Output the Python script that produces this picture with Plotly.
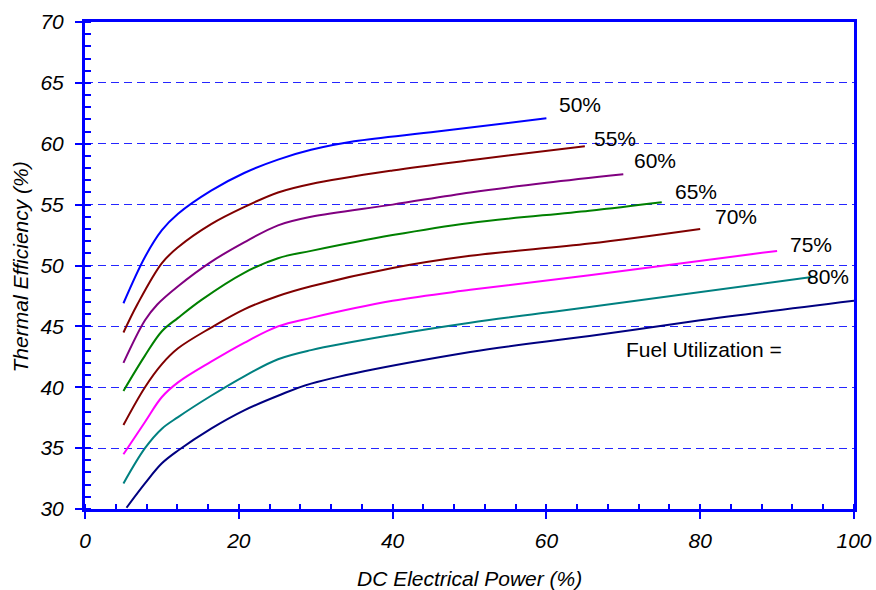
import plotly.graph_objects as go

# Fuel utilization curves: DC electrical power (%) vs thermal efficiency (%)
fu_labels = ["50%", "55%", "60%", "65%", "70%", "75%", "80%", "85%"]

x_50 = [5, 7.8, 10, 12.1, 16.4, 20.7, 25.1, 29.4, 35, 45.8, 60]
y_50 = [46.9, 50.7, 52.9, 54.25, 56.15, 57.6, 58.7, 59.5, 60.2, 61.0, 62.1]

x_55 = [5, 6.8, 10, 12.1, 16.4, 20.7, 25.1, 29.4, 40, 50.1, 65]
y_55 = [44.5, 46.8, 50.2, 51.5, 53.4, 54.8, 56.0, 56.7, 57.8, 58.65, 59.8]

x_60 = [5, 7.8, 9.4, 12.1, 16.4, 20.7, 25.1, 29.4, 40, 50.1, 60, 70]
y_60 = [42.0, 45.5, 46.8, 48.3, 50.3, 51.9, 53.3, 54.0, 55.0, 56.0, 56.8, 57.5]

x_65 = [5, 7.8, 10, 12.1, 15.2, 20.7, 25.1, 29.4, 40, 50.1, 65.6, 75]
y_65 = [39.7, 42.6, 44.6, 45.7, 47.2, 49.4, 50.6, 51.2, 52.5, 53.5, 54.5, 55.2]

x_70 = [5, 7.8, 10, 12.1, 16.4, 20.7, 25.1, 29.4, 40, 50.1, 65.6, 80]
y_70 = [36.9, 40.0, 41.9, 43.2, 44.9, 46.4, 47.5, 48.3, 49.8, 50.8, 51.8, 53.0]

x_75 = [5, 7.8, 10, 12.1, 16.4, 20.7, 25.1, 29.4, 40, 50.1, 65.6, 90]
y_75 = [34.5, 37.15, 39.2, 40.4, 42.1, 43.65, 45.0, 45.7, 47.1, 48.0, 49.2, 51.2]

x_80 = [5, 7.8, 10, 12.1, 16.4, 20.7, 25.1, 29.4, 40, 50.1, 65.6, 95]
y_80 = [32.1, 35.0, 36.6, 37.55, 39.3, 40.9, 42.3, 43.05, 44.3, 45.3, 46.6, 49.1]

x_85 = [5.4, 7.8, 10, 12.1, 16.4, 20.7, 25.1, 29.4, 50.1, 65.6, 80, 100]
y_85 = [30.1, 32.1, 33.75, 34.8, 36.6, 38.1, 39.3, 40.3, 42.9, 44.2, 45.5, 47.1]

series_x = [x_50, x_55, x_60, x_65, x_70, x_75, x_80, x_85]
series_y = [y_50, y_55, y_60, y_65, y_70, y_75, y_80, y_85]
colors = ["#0000FF", "#800000", "#800080", "#008000", "#800000", "#FF00FF", "#008080", "#000080"]

# label positions (data coords) for the curve annotations
label_text = ["50%", "55%", "60%", "65%", "70%", "75%", "80%", "Fuel Utilization ="]
label_x = [64.4, 68.9, 74.1, 79.4, 84.6, 94.4, 96.6, 80.5]
label_y = [63.2, 60.4, 58.6, 56.1, 54.0, 51.75, 49.1, 43.1]

FONT = "Liberation Sans, Arial, sans-serif"
TITLE_FONT = dict(family=FONT, size=21, color="black", style="italic")

fig = go.Figure()
for xs, ys, c, name in zip(series_x, series_y, colors, fu_labels):
    fig.add_trace(go.Scatter(x=xs, y=ys, mode="lines", name=name,
                             line=dict(color=c, width=2, shape="spline", smoothing=1.0),
                             showlegend=False, hoverinfo="skip"))

for t, lx, ly in zip(label_text, label_x, label_y):
    fig.add_annotation(x=lx, y=ly, xref="x", yref="y", text=t, showarrow=False,
                       font=dict(family=FONT, size=21, color="black"),
                       xanchor="center", yanchor="middle")

# axis titles as paper annotations (placed as in the reference)
fig.add_annotation(x=0.5, y=-0.1417, xref="paper", yref="paper",
                   text="DC Electrical Power (%)", showarrow=False,
                   font=TITLE_FONT, xanchor="center", yanchor="middle")
fig.add_annotation(x=-0.0845, y=0.496, xref="paper", yref="paper",
                   text="Thermal Efficiency (%)", showarrow=False, textangle=-90,
                   font=TITLE_FONT, xanchor="center", yanchor="middle")

axis_common = dict(
    showline=True, linecolor="#0000FF", linewidth=3, mirror=True,
    ticks="outside", ticklen=7, tickwidth=2, tickcolor="#0000FF",
    tickfont=dict(family=FONT, size=21, color="black", style="italic"),
    zeroline=False, automargin=False,
)

fig.update_xaxes(
    range=[0, 100], tick0=0, dtick=20, showgrid=False,
    minor=dict(ticks="inside", ticklen=5, tickwidth=2, tickcolor="#0000FF", dtick=4, showgrid=False),
    ticklabelstandoff=4,
    **axis_common,
)
fig.update_yaxes(
    range=[30, 70], tick0=30, dtick=5, showgrid=True,
    gridcolor="#2626FF", gridwidth=1, griddash="8px,5px",
    minor=dict(ticks="inside", ticklen=6, tickwidth=2, tickcolor="#0000FF", dtick=1, showgrid=False),
    ticklabelstandoff=7,
    **axis_common,
)

fig.update_layout(
    width=876, height=590,
    margin=dict(l=85, r=22, t=22, b=81),
    paper_bgcolor="white", plot_bgcolor="white",
    showlegend=False,
)

fig.write_html("out.html", config={"displayModeBar": False},
               post_script="document.body.style.margin='0px';")
